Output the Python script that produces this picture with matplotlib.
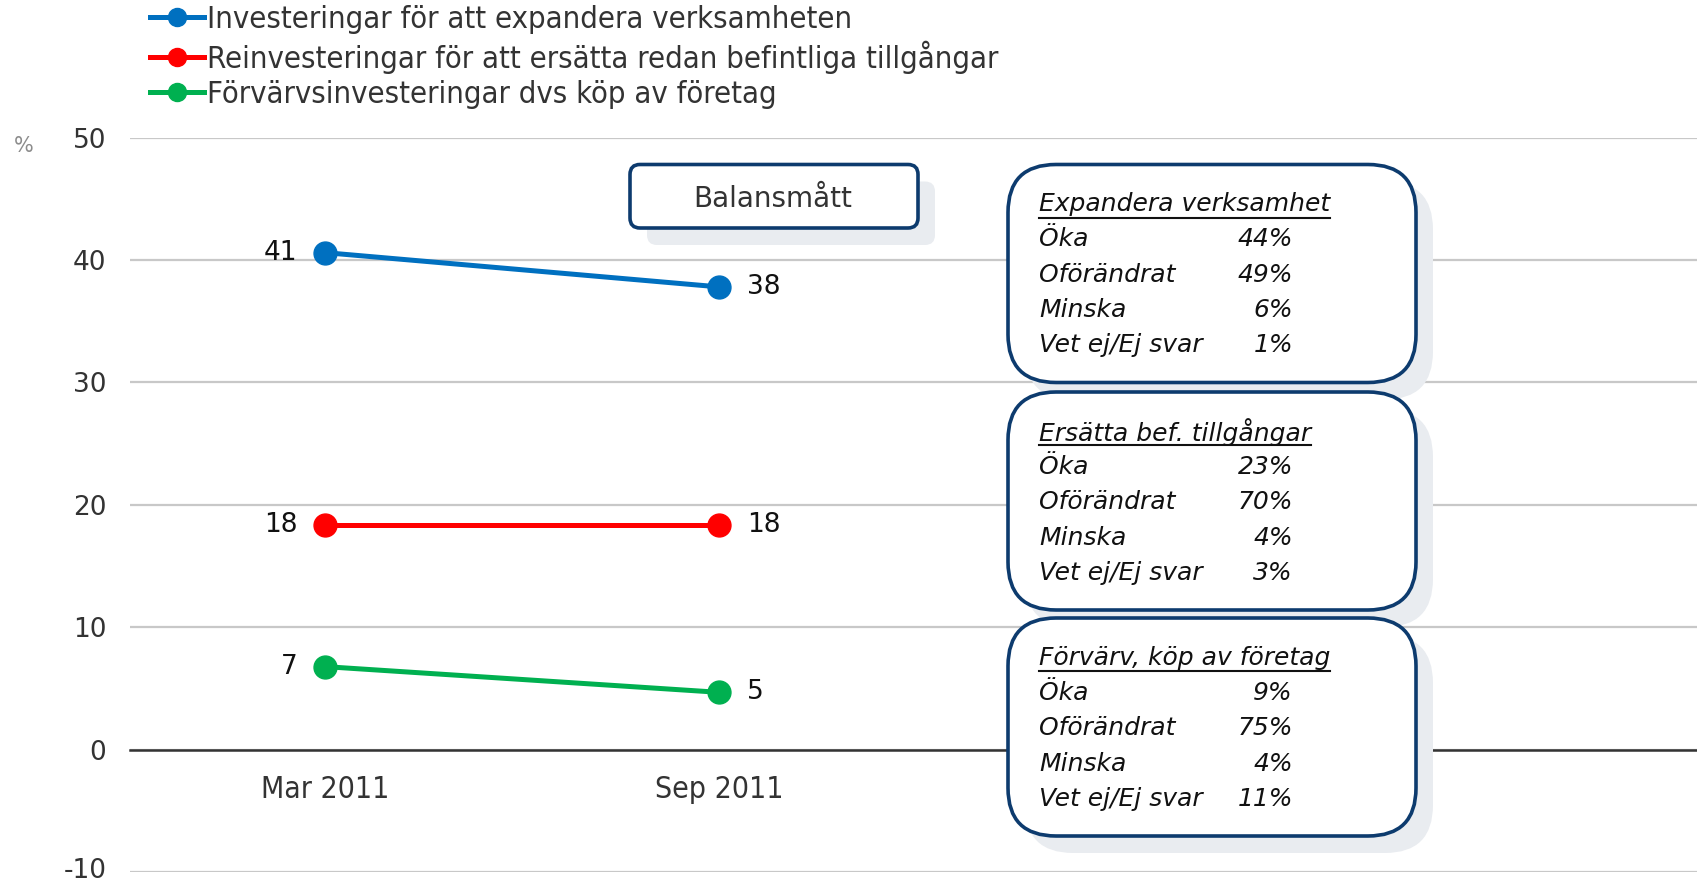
import matplotlib
matplotlib.use('Agg')
import matplotlib.pyplot as plt
from matplotlib.patches import FancyBboxPatch
from matplotlib.lines import Line2D
from matplotlib import font_manager
from matplotlib.transforms import ScaledTranslation

# Data
periods = ['Mar 2011', 'Sep 2011']
expand = [40.6, 37.8]
replace = [18.4, 18.4]
acquire = [6.8, 4.7]

series_names = ['Investeringar för att expandera verksamheten',
                'Reinvesteringar för att ersätta redan befintliga tillgångar',
                'Förvärvsinvesteringar dvs köp av företag']
series_colors = ['#0070c0', '#ff0000', '#00b050']

box_titles = ['Expandera verksamhet', 'Ersätta bef. tillgångar', 'Förvärv, köp av företag']
answer_labels = ['Öka', 'Oförändrat', 'Minska', 'Vet ej/Ej svar']
expand_answers = [44, 49, 6, 1]
replace_answers = [23, 70, 4, 3]
acquire_answers = [9, 75, 4, 11]

yticks = [-10, 0, 10, 20, 30, 40, 50]

# Fonts: look for a narrow face for legend and x labels
narrow_file = None
for f in font_manager.fontManager.ttflist:
    if f.style != 'normal' or f.weight not in (400, 'normal', 'regular'):
        continue
    if 'Narrow' in f.name or 'Condensed' in f.name or f.stretch in ('condensed', 'semi-condensed', 300):
        narrow_file = f.fname
        break
if narrow_file:
    narrow_fp = font_manager.FontProperties(fname=narrow_file)
    legend_size, xlab_size = 22.2, 21.6
else:
    narrow_fp = font_manager.FontProperties(family='DejaVu Sans')
    legend_size, xlab_size = 18.5, 18

plt.rcParams['font.family'] = ['DejaVu Sans']
plt.rcParams['axes.unicode_minus'] = False

W, H = 1697, 884
fig = plt.figure(figsize=(W / 100, H / 100), dpi=100)
ax = fig.add_axes([130 / W, (H - 872.4) / H, 1 - 130 / W, (872.4 - 137.5) / H])
ax.spines['bottom'].set_position(('data', 0))

x = list(range(len(periods)))
for vals, name, col in zip([expand, replace, acquire], series_names, series_colors):
    ax.plot(x, vals, color=col, lw=3.6, marker='o', markersize=16.5, label=name,
            solid_capstyle='butt', zorder=3)
    ax.annotate(f"{vals[0]:.0f}", (x[0], vals[0]), textcoords='offset points',
                xytext=(-20, 0), ha='right', va='center', fontsize=19, color='#111111')
    ax.annotate(f"{vals[1]:.0f}", (x[1], vals[1]), textcoords='offset points',
                xytext=(20, 0), ha='left', va='center', fontsize=19, color='#111111')

ax.set_xlim(-0.495, 3.48)
ax.set_ylim(-10, 50)
ax.set_yticks(yticks)
ax.tick_params(axis='y', length=0, pad=17, labelsize=19, labelcolor='#333333')
ax.set_xticks(x)
ax.set_xticklabels(periods, color='#333333')
for lab in ax.get_xticklabels():
    lab.set_fontproperties(narrow_fp)
    lab.set_fontsize(xlab_size)
ax.tick_params(axis='x', length=0, pad=18)
ax.grid(axis='y', color='#c8c8c8', lw=1.6)
ax.set_axisbelow(True)
for s in ['top', 'right', 'left']:
    ax.spines[s].set_visible(False)
ax.spines['bottom'].set_color('#333333')
ax.spines['bottom'].set_linewidth(1.8)

# nudge the bottom tick label up so it stays inside the figure
low = ax.get_yticklabels()[0]
low.set_transform(low.get_transform() + ScaledTranslation(0, 3 / 72, fig.dpi_scale_trans))

fig.text(24 / W, 1 - 146 / H, '%', fontsize=15, color='#8c8c8c', ha='center', va='center')

# Legend
handles = [Line2D([], [], color=c, lw=3.6, marker='o', markersize=13) for c in series_colors]
leg_prop = narrow_fp.copy()
leg_prop.set_size(legend_size)
fig.legend(handles, series_names, loc='upper left', bbox_to_anchor=(138 / W, 1.008),
           frameon=False, prop=leg_prop, handlelength=1.75,
           handletextpad=0.1, labelspacing=0.2, borderaxespad=0.0, labelcolor='#333333')

# Overlay in pixel units for the annotation boxes
ov = fig.add_axes([0, 0, 1, 1])
ov.set_xlim(0, W)
ov.set_ylim(H, 0)
ov.axis('off')

edge = '#0d3b6e'
shadow = '#e9ecf0'


def rbox(x0, y0, w, h, r, off=17):
    ov.add_patch(FancyBboxPatch((x0 + off, y0 + off), w, h, boxstyle=f'round,pad=0,rounding_size={r}',
                                fc=shadow, ec='none', zorder=1))
    ov.add_patch(FancyBboxPatch((x0, y0), w, h, boxstyle=f'round,pad=0,rounding_size={r}',
                                fc='white', ec=edge, lw=2.6, zorder=2))


rbox(630, 164.5, 288, 63.5, 10)
ov.text(773, 199, 'Balansmått', fontsize=20, color='#333333', ha='center', va='center', zorder=3)

fig.canvas.draw()
renderer = fig.canvas.get_renderer()
box_tops = [164.5, 392, 618]
for top, title, answers in zip(box_tops, box_titles, [expand_answers, replace_answers, acquire_answers]):
    rbox(1008, top, 408, 218, 48)
    t = ov.text(1039, top + 40, title, fontsize=18, style='italic', color='#111111',
                ha='left', va='center', zorder=3)
    bb = t.get_window_extent(renderer)
    ov.plot([bb.x0, bb.x1], [top + 53, top + 53], color='#111111', lw=1.5, zorder=3)
    for i, (lab, val) in enumerate(zip(answer_labels, answers)):
        yy = top + 75 + i * 35.3
        ov.text(1039, yy, lab, fontsize=18, style='italic', color='#111111',
                ha='left', va='center', zorder=3)
        ov.text(1293, yy, f'{val}%', fontsize=18, style='italic', color='#111111',
                ha='right', va='center', zorder=3)

fig.savefig('out.png', dpi=100)
